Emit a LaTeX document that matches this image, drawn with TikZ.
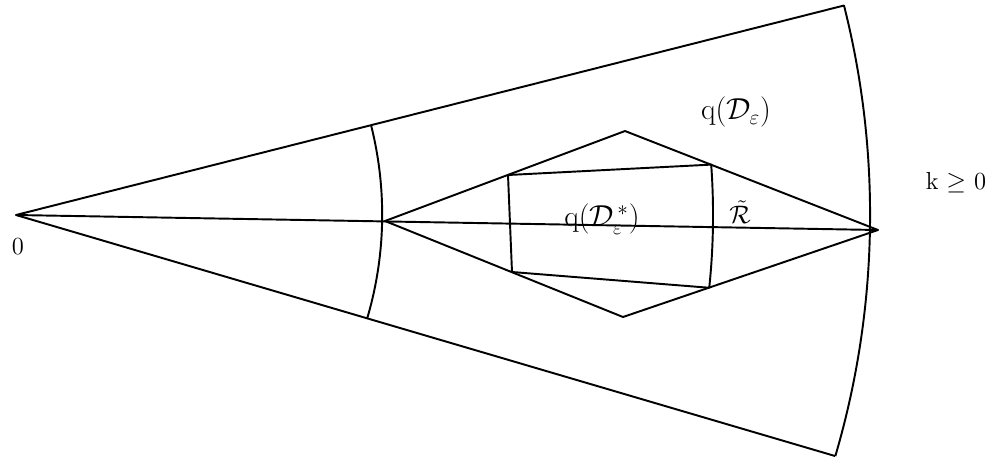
\documentclass[tikz,border=0pt]{standalone}
\usepackage{amsmath,amssymb}

\begin{document}
\begin{tikzpicture}[x=0.02cm,y=-0.02cm,line width=1.1pt,line join=round,font=\fontsize{14}{16}\selectfont]
\tikzset{biglabel/.style={font=\fontsize{17}{19}\selectfont}}
\useasboundingbox (0,0) rectangle (1002,461);
\coordinate (O) at (16,215); \coordinate (Kt) at (844,5.5); \coordinate (Kb) at (835,456); \coordinate (Jt) at (371,125);
\coordinate (L) at (385,221); \coordinate (H) at (625,131); \coordinate (E) at (878,230); \coordinate (B) at (623,317);
\coordinate (Q1) at (508,175); \coordinate (Q2) at (512,272); \coordinate (P1) at (711.2,164.6); \coordinate (P2) at (709.2,287.7);
\draw (Kb)--(O)--(Kt) arc[start angle=-14.2,end angle=16.4,radius=854];
\draw (Jt) arc[start angle=-14.2,end angle=16.4,radius=366];
\draw (O)--(E); \draw (L)--(H)--(E)--(B)--cycle;
\draw (Q2)--(Q1)--(P1) arc[start angle=-4.15,end angle=5.99,radius=697]--(Q2);
\node (zero) at (18,247) {0}; \node (kz) at (956,183) {k\ $\geq$\ 0};
\node[biglabel] (qd) at (736,112) {q$(\mathcal{D}_{\varepsilon})$}; \node[biglabel] (qs) at (602,219) {q$(\mathcal{D}^{\,*}_{\varepsilon})$};
\node (rt) at (740,212) {$\tilde{\mathcal{R}}$};
\end{tikzpicture}
\end{document}
